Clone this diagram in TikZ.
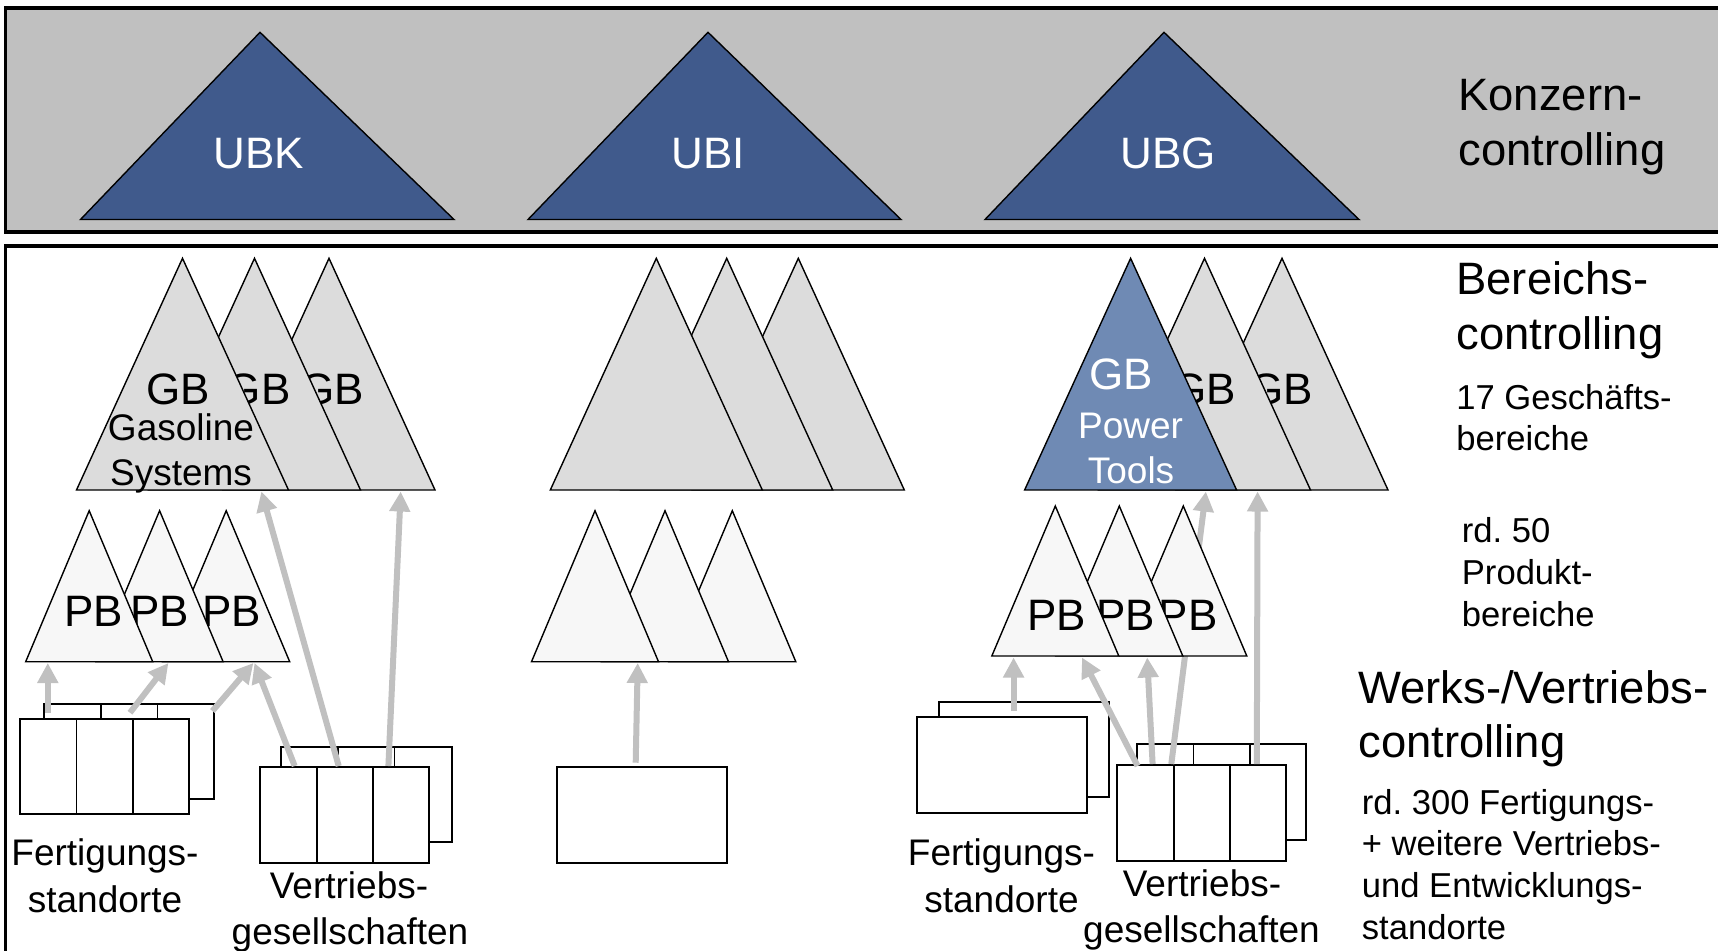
\documentclass[tikz,border=0pt]{standalone}
\usepackage{fontspec}
\setmainfont{Liberation Sans}
\usetikzlibrary{arrows.meta}
\definecolor{topgray}{HTML}{C0C0C0}
\definecolor{ubblue}{HTML}{405A8C}
\definecolor{gbblue}{HTML}{6F8AB4}
\definecolor{gbgray}{HTML}{DCDCDC}
\definecolor{pbgray}{HTML}{F7F7F7}
\definecolor{arrgray}{HTML}{C0C0C0}
% GB triangle: apex x, extra style
\newcommand\GBtri[2]{\filldraw[gbtri,#2] (#1-106,490) -- (#1,258.3) -- (#1+106,490) -- cycle;}
% PB triangle: apex x, apex y, base y
\newcommand\PBtri[3]{\filldraw[pbtri] (#1-63.5,#3) -- (#1,#2) -- (#1+63.5,#3) -- cycle;}
\frenchspacing
\begin{document}
\begin{tikzpicture}[x=0.5pt,y=-0.5pt,
  ubtri/.style={fill=ubblue,draw=black,line width=0.7pt},
  gbtri/.style={fill=gbgray,draw=black,line width=0.7pt},
  pbtri/.style={fill=pbgray,draw=black,line width=0.7pt},
  stdbox/.style={fill=white,draw=black,line width=1pt},
  divline/.style={draw=black,line width=0.7pt},
  flowarrow/.style={draw=arrgray,line width=3pt,-{Triangle[length=10pt,width=10pt]}},
  txtbig/.style={font=\fontsize{22}{26}\selectfont,inner sep=0pt,anchor=base},
  txthead/.style={font=\fontsize{22.7}{27}\selectfont,inner sep=0pt,anchor=base west},
  txtmid/.style={font=\fontsize{18.5}{22}\selectfont,inner sep=0pt,anchor=base},
  txtsmall/.style={font=\fontsize{17.3}{20}\selectfont,inner sep=0pt,anchor=base west},
]
\useasboundingbox (0,0) rectangle (1718,950);
\fill[white] (0,0) rectangle (1718,950);
% frames
\filldraw[fill=topgray,draw=black,line width=1.8pt] (5.5,8) rectangle (1740,232);
\draw[black,line width=1.8pt] (1740,246) -- (5.5,246) -- (5.5,980);
% Konzern level
\filldraw[ubtri] (80.5,219.5) -- (260,32.3) -- (454,219.5) -- cycle;
\filldraw[ubtri] (528,219.5) -- (708,32.3) -- (901,219.5) -- cycle;
\filldraw[ubtri] (985,219.5) -- (1164,32.3) -- (1359,219.5) -- cycle;
\node[txtbig,text=white] (ubk) at (258.5,168) {UBK};
\node[txtbig,text=white] (ubi) at (708,168) {UBI};
\node[txtbig,text=white] (ubg) at (1168,168) {UBG};
\node[txthead] (konz1) at (1458,110) {Konzern-};
\node[txthead] (konz2) at (1458,165.5) {controlling};
% site boxes
\draw[stdbox] (44.4,704) rectangle (214.3,799.3);
\draw[divline] (101,704) -- (101,719) (157.3,704) -- (157.3,719);
\draw[stdbox] (19.9,719) rectangle (189.4,813.7);
\draw[divline] (76.5,719) -- (76.5,813.7) (132.8,719) -- (132.8,813.7);
\draw[stdbox] (281.3,746.7) rectangle (451.6,842.3);
\draw[divline] (337.9,746.7) -- (337.9,767) (394.2,746.7) -- (394.2,767);
\draw[stdbox] (260.2,767) rectangle (429.4,862.7);
\draw[divline] (316.9,767) -- (316.9,862.7) (373.1,767) -- (373.1,862.7);
\draw[stdbox] (557.3,766.7) rectangle (727.3,862.7);
\draw[stdbox] (938.8,701.7) rectangle (1108.8,796.7);
\draw[stdbox] (917.4,717.3) rectangle (1086.8,813);
\draw[stdbox] (1136.5,744) rectangle (1306,840);
\draw[divline] (1193.2,744) -- (1193.2,765) (1249.9,744) -- (1249.9,765);
\draw[stdbox] (1116.8,765) rectangle (1286.2,860.7);
\draw[divline] (1174,765) -- (1174,860.7) (1230,765) -- (1230,860.7);
% arrow end points
\coordinate (s1) at (47.8,712.7);  \coordinate (e1) at (47.8,663);
\coordinate (s2) at (130,712.7);   \coordinate (e2) at (168.4,663);
\coordinate (s3) at (212.4,711);   \coordinate (e3) at (253.4,663);
\coordinate (s4) at (294.7,766);   \coordinate (e4) at (254.5,663);
\coordinate (s5) at (338.7,766);   \coordinate (e5) at (261.4,491.5);
\coordinate (s6) at (388.4,766);   \coordinate (e6) at (400.7,491.5);
\coordinate (s7) at (635.7,762.7); \coordinate (e7) at (637.7,663);
\coordinate (s8) at (1013.6,711);  \coordinate (e8) at (1013.6,657.5);
\coordinate (s9) at (1137.6,766);  \coordinate (e9) at (1082,657.5);
\coordinate (s10) at (1152.6,764); \coordinate (e10) at (1147.2,657.5);
\coordinate (s11) at (1171.3,764); \coordinate (e11) at (1205.9,491.5);
\coordinate (s12) at (1256.8,764); \coordinate (e12) at (1257.6,491.5);
\foreach \i in {1,...,12} {\draw[flowarrow] (s\i) -- (e\i);}
% PB triangles
\PBtri{226.2}{510.7}{661.7}
\node[txtbig] (pbl3) at (231.5,626) {PB};
\PBtri{159.6}{510.7}{661.7}
\node[txtbig] (pbl2) at (159.8,626) {PB};
\PBtri{89.2}{510.7}{661.7}
\node[txtbig] (pbl1) at (93.8,626) {PB};
\PBtri{732.3}{510.7}{661.7}
\PBtri{665}{510.7}{661.7}
\PBtri{595}{510.7}{661.7}
\PBtri{1183.3}{506}{656}
\node[txtbig] (pbr3) at (1188,630) {PB};
\PBtri{1119.3}{506}{656}
\node[txtbig] (pbr2) at (1125.4,630) {PB};
\PBtri{1055.3}{506}{656}
\node[txtbig] (pbr1) at (1056.6,630) {PB};
% GB triangles
\GBtri{329}{}
\node[txtbig] (gbl3) at (332,404) {GB};
\GBtri{254.5}{}
\node[txtbig] (gbl2) at (258.6,404) {GB};
\GBtri{182.5}{}
\node[txtbig] (gbl1) at (178.5,404) {GB};
\node[txtmid] (gas1) at (181,440) {Gasoline};
\node[txtmid] (gas2) at (181,485) {Systems};
\GBtri{798.3}{}
\GBtri{726.7}{}
\GBtri{656.3}{}
\GBtri{1282}{}
\node[txtbig] (gbr3) at (1281,404) {GB};
\GBtri{1204.5}{}
\node[txtbig] (gbr2) at (1204,404) {GB};
\GBtri{1130.6}{fill=gbblue}
\node[txtbig,text=white] (gbr1) at (1121,389) {GB};
\node[txtmid,text=white] (pt1) at (1130.6,438) {Power};
\node[txtmid,text=white] (pt2) at (1131,483) {Tools};
% site labels
\node[txtmid] (fl1) at (105,865) {Fertigungs-};
\node[txtmid] (fl2) at (105,912) {standorte};
\node[txtmid] (vl1) at (349,898) {Vertriebs-};
\node[txtmid] (vl2) at (350,944) {gesellschaften};
\node[txtmid] (fr1) at (1001.5,865) {Fertigungs-};
\node[txtmid] (fr2) at (1001.5,912) {standorte};
\node[txtmid] (vr1) at (1202,896) {Vertriebs-};
\node[txtmid] (vr2) at (1201.5,942) {gesellschaften};
% right column
\node[txthead] (ber1) at (1456,294) {Bereichs-};
\node[txthead] (ber2) at (1456,349) {controlling};
\node[txtsmall] (ges1) at (1456,409) {17 Geschäfts-};
\node[txtsmall] (ges2) at (1456,450) {bereiche};
\node[txtsmall] (pro1) at (1461.5,542) {rd. 50};
\node[txtsmall] (pro2) at (1461.5,584) {Produkt-};
\node[txtsmall] (pro3) at (1461.5,626) {bereiche};
\node[txthead] (wer1) at (1358,703) {Werks-/Vertriebs-};
\node[txthead] (wer2) at (1358,757) {controlling};
\node[txtsmall] (st1) at (1361.5,814) {rd. 300 Fertigungs-};
\node[txtsmall] (st2) at (1361.5,855) {+ weitere Vertriebs-};
\node[txtsmall] (st3) at (1361.5,897) {und Entwicklungs-};
\node[txtsmall] (st4) at (1361.5,939) {standorte};
\end{tikzpicture}
\end{document}
